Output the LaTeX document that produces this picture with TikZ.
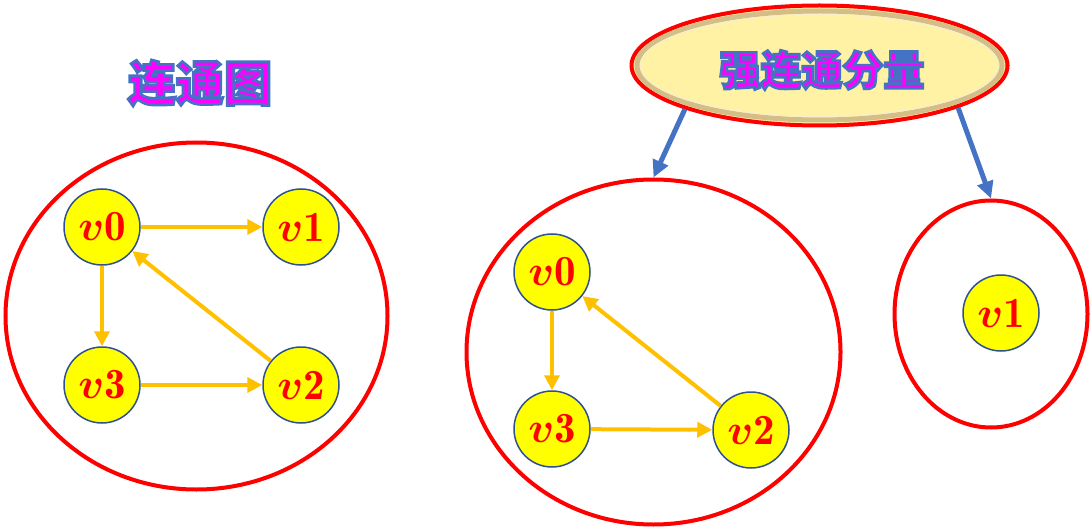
\RequirePackage{fix-cm}
\documentclass[tikz,border=0pt]{standalone}
\usepackage{amsmath}
\usepackage{fontspec}
\newfontfamily\cjk{Noto Sans CJK SC}
\usepackage{xcolor}
\usepackage{tikz}
\usetikzlibrary{positioning,calc,shapes.geometric,arrows.meta}

\definecolor{vfill}{RGB}{255,255,0}
\definecolor{vedge}{RGB}{47,82,143}
\definecolor{arcorange}{RGB}{255,192,0}
\definecolor{sblue}{RGB}{68,114,196}
\definecolor{titlefill}{RGB}{255,242,165}
\definecolor{bevel}{RGB}{212,190,135}
\definecolor{bevellight}{RGB}{248,238,205}
\definecolor{headmag}{RGB}{255,0,255}

\tikzset{
	vertex/.style={circle, draw=vedge, line width=1.5pt, fill=vfill, minimum size=76pt, inner sep=0pt, text=red, font=\fontsize{43}{43}\selectfont},
	edgearrow/.style={draw=arcorange, line width=4pt, -{Triangle[length=15pt,width=15pt]}},
	part/.style={ellipse, draw=red, line width=4pt, inner sep=0pt},
	pointer/.style={draw=sblue, line width=5pt, -{Triangle[length=17pt,width=16pt]}},
	headtext/.style={font=\cjk\bfseries\fontsize{#1}{#1}\selectfont, inner sep=0pt},
}

\newcommand{\vlab}[1]{$\boldsymbol{v}\mathbf{#1}$}
% text stroked in blue round its glyphs
\newcommand{\rimmed}[1]{\special{pdf:literal direct 2 Tr 2.6 w 0.267 0.447 0.769 RG}#1\special{pdf:literal direct 0 Tr}}

\begin{document}
\begin{tikzpicture}[x=1pt,y=-1pt]
	\useasboundingbox (0,0) rectangle (1091,529);
	
	% title of the left graph
	\node[headtext=48, text=headmag] (ltitle) at (200,83) {\rimmed{连通图}};
	
	% left: connected graph
	\node[part, minimum width=382pt, minimum height=347pt] (whole) at (196.5,316) {};
	\node[vertex] (a0) at (102,227) {\vlab{0}};
	\node[vertex] (a1) at (301,227) {\vlab{1}};
	\node[vertex] (a3) at (102,385) {\vlab{3}};
	\node[vertex] (a2) at (301,385) {\vlab{2}};
	\draw[edgearrow] (a0) -- (a1);
	\draw[edgearrow] (a0) -- (a3);
	\draw[edgearrow] (a3) -- (a2);
	\draw[edgearrow] (a2) -- (a0);
	
	% top: strongly connected components
	\node[part, fill=titlefill, minimum width=376pt, minimum height=120pt] (scc) at (819.5,65.5) {};
	\draw[bevel, line width=5pt] (scc.center) ellipse [x radius=182.5, y radius=54.5];
	\draw[bevellight, line width=1.2pt] (scc.center) ellipse [x radius=179, y radius=51];
	\node[headtext=41, text=headmag] (stitle) at (822,70) {\rimmed{强连通分量}};
	
	% middle component
	\node[part, minimum width=374pt, minimum height=345pt] (compa) at (653.5,352) {};
	\node[vertex] (b0) at (552,272) {\vlab{0}};
	\node[vertex] (b3) at (552,429) {\vlab{3}};
	\node[vertex] (b2) at (751,430) {\vlab{2}};
	\draw[edgearrow] (b0) -- (b3);
	\draw[edgearrow] (b3) -- (b2);
	\draw[edgearrow] (b2) -- (b0);
	
	% right component
	\node[part, minimum width=193pt, minimum height=227pt] (compb) at (991,314) {};
	\node[vertex] (c1) at (1001,313) {\vlab{1}};
	
	\draw[pointer] (scc.198.6) -- (compa.north);
	\draw[pointer] (scc.-17.7) -- (compb.north);
\end{tikzpicture}
\end{document}
